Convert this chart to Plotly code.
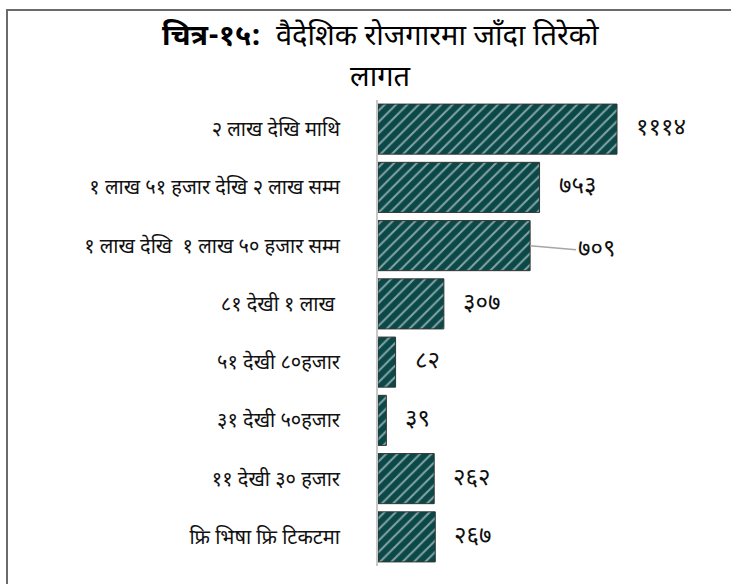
import plotly.graph_objects as go

# data
categories = [
    'फ्रि भिषा फ्रि टिकटमा',
    '११ देखी ३० हजार',
    '३१ देखी ५०हजार',
    '५१ देखी ८०हजार',
    '८१ देखी १ लाख ',
    '१ लाख देखि  १ लाख ५० हजार सम्म',
    '१ लाख ५१ हजार देखि २ लाख सम्म',
    '२ लाख देखि माथि',
]
values = [267, 262, 39, 82, 307, 709, 753, 1114]

title_line1 = '<b>चित्र-१५:</b>  वैदेशिक रोजगारमा जाँदा तिरेको'
title_line2 = 'लागत'

NP_DIGITS = str.maketrans('0123456789', '०१२३४५६७८९')


def to_np(n):
    return str(n).translate(NP_DIGITS)


W, H = 731, 584
ML, MR, MT, MB = 378, 40, 100, 18
PW = W - ML - MR
PH = H - MT - MB

FONT = 'Noto Sans Devanagari, Lohit Devanagari, Mukta, Noto Sans, sans-serif'
BAR = '#0b4848'


def px_x(p):
    return (p - ML) / PW


def px_y(p):
    return (H - MB - p) / PH


fig = go.Figure()
fig.add_trace(go.Bar(
    y=categories, x=values, orientation='h',
    marker=dict(color=BAR, line=dict(color='#333333', width=1),
                pattern=dict(shape='/', fillmode='overlay', fgcolor='white',
                             size=8, solidity=0.25)),
    width=0.86, hoverinfo='skip',
))

annotations = []
for c, v in zip(categories, values):
    if v == 709:
        annotations.append(dict(x=v, y=c, text=to_np(v), showarrow=True, arrowhead=0,
                                arrowcolor='#a6a6a6', arrowwidth=1.5, ax=46, ay=4,
                                xanchor='left', font=dict(family=FONT, size=24, color='#111')))
    else:
        annotations.append(dict(x=v, y=c, text=to_np(v), showarrow=False, xanchor='left',
                                xshift=17, font=dict(family=FONT, size=24, color='#111')))

annotations.append(dict(xref='paper', yref='paper', x=px_x(380), y=px_y(38), text=title_line1,
                        showarrow=False, xanchor='center', yanchor='middle',
                        font=dict(family=FONT, size=29, color='#000')))
annotations.append(dict(xref='paper', yref='paper', x=px_x(380), y=px_y(79), text=title_line2,
                        showarrow=False, xanchor='center', yanchor='middle',
                        font=dict(family=FONT, size=29, color='#000')))

shapes = [
    dict(type='line', xref='paper', yref='paper', x0=px_x(6), x1=px_x(W + 5),
         y0=px_y(10), y1=px_y(10), line=dict(color='#6b6b6b', width=2)),
    dict(type='line', xref='paper', yref='paper', x0=px_x(7), x1=px_x(7),
         y0=px_y(10), y1=px_y(H + 5), line=dict(color='#6b6b6b', width=2)),
]

fig.update_layout(
    width=W, height=H,
    margin=dict(l=ML, r=MR, t=MT, b=MB, autoexpand=False),
    paper_bgcolor='white', plot_bgcolor='white',
    showlegend=False,
    xaxis=dict(range=[0, 1114 * PW / 239], visible=False, fixedrange=True),
    yaxis=dict(showline=True, linecolor='#c8c8c8', linewidth=2, ticks='',
               ticklabelstandoff=32, showgrid=False, fixedrange=True,
               tickfont=dict(family=FONT, size=20, color='#111')),
    annotations=annotations,
    shapes=shapes,
)

# page margin off so the figure sits at the window's corner
fig.write_html('out.html', config={'displayModeBar': False},
               post_script="document.body.style.margin='0';")
